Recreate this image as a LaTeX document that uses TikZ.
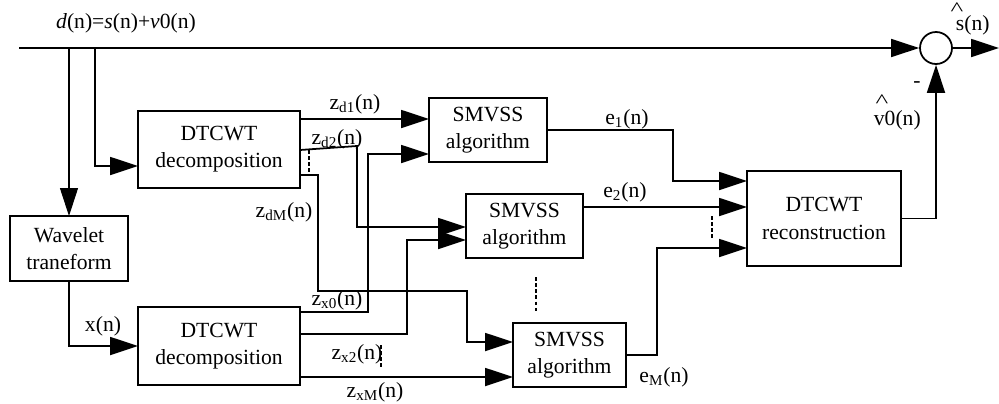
\documentclass[tikz,border=0pt]{standalone}
\usepackage{fontspec}
\setmainfont{Liberation Serif}
\usetikzlibrary{arrows.meta}

\begin{document}
\begin{tikzpicture}[x=0.02cm, y=-0.02cm, line width=1pt,
    font=\fontsize{12.3}{15.5}\selectfont,
    >={Triangle[length=0.56cm,width=0.36cm]},
    blk/.style={draw, align=center, inner sep=0pt, outer sep=0pt},
    lbl/.style={inner sep=0pt},
    dots/.style={line width=0.8pt, dash pattern=on 2pt off 1.5pt}]
    \useasboundingbox (0,0) rectangle (999,403);

    \node[blk, minimum width=2.36cm, minimum height=1.3cm] (wav) at (69,248.5) {Wavelet\\traneform};
    \node[blk, minimum width=3.24cm, minimum height=1.54cm] (dec1) at (219,149.5) {DTCWT\\decomposition};
    \node[blk, minimum width=3.24cm, minimum height=1.56cm] (dec2) at (219,346) {DTCWT\\decomposition};
    \node[blk, minimum width=2.36cm, minimum height=1.28cm] (alg1) at (488,130) {SMVSS\\algorithm};
    \node[blk, minimum width=2.34cm, minimum height=1.28cm] (alg2) at (524.5,226) {SMVSS\\algorithm};
    \node[blk, minimum width=2.26cm, minimum height=1.28cm] (algM) at (569.5,355) {SMVSS\\algorithm};
    \node[blk, minimum width=3.08cm, minimum height=1.9cm] (rec) at (824,218.5) {DTCWT\\reconstruction};
    \node[draw, circle, minimum size=0.64cm, inner sep=0pt] (sum) at (936,48) {};

    \coordinate (in) at (19,48);
    \coordinate (tap) at (95,48);
    \coordinate (out) at (999,48);

    \draw[->] (in) -- (sum.west);
    \draw[->] (sum.east) -- (out);
    \draw[->, line width=0.6pt] (in -| wav.north) -- (wav.north);
    \draw[->] (tap) -- (tap |- 0,166) -- (dec1.west |- 0,166);
    \draw[->] (wav.south) |- (dec2.west |- 0,346);

    \draw[->] (dec1.east |- 0,119) -- (alg1.west |- 0,119);
    \draw[->] (dec1.east |- 0,150) -- (357,146) |- (alg2.west |- 0,227);
    \draw[->] (dec1.east |- 0,175) -| (318,291) -| (467,342) -- (algM.west |- 0,342);
    \draw[->] (dec2.east |- 0,312) -| (368,154) -- (alg1.west |- 0,154);
    \draw[->] (dec2.east |- 0,334) -| (407,240) -- (alg2.west |- 0,240);
    \draw[->] (dec2.east |- 0,377) -- (algM.west |- 0,377);

    \draw[->] (alg1.east |- 0,130) -| (673,181) -- (rec.west |- 0,181);
    \draw[->] (alg2.east |- 0,207) -- (rec.west |- 0,207);
    \draw[->] (algM.east |- 0,355) -| (657,248) -- (rec.west |- 0,248);
    \draw[->] (rec.east) -| (sum.south);

    \draw[dots] (309,150) -- (309,172);
    \draw[dots] (381,345) -- (381,367);
    \draw[dots] (536,277) -- (536,312);
    \draw[dots] (712,216) -- (712,239);

    \node[lbl] (dn) at (126,23) {\textit{d}(n)=\textit{s}(n)+\textit{v}0(n)};
    \node[lbl] (xn) at (103,326) {x(n)};
    \node[lbl] (zd1) at (355,104) {z\textsubscript{d1}(n)};
    \node[lbl] (zd2) at (337,139) {z\textsubscript{d2}(n)};
    \node[lbl] (zdM) at (284,212) {z\textsubscript{dM}(n)};
    \node[lbl] (zx0) at (337,300) {z\textsubscript{x0}(n)};
    \node[lbl] (zx2) at (357,354) {z\textsubscript{x2}(n)};
    \node[lbl] (zxM) at (375,392) {z\textsubscript{xM}(n)};
    \node[lbl] (e1) at (627,119) {e\textsubscript{1}(n)};
    \node[lbl] (e2) at (625,192) {e\textsubscript{2}(n)};
    \node[lbl] (eM) at (664,377) {e\textsubscript{M}(n)};
    \node[lbl, anchor=base west] (shat) at (955,30) {\makebox[0pt][l]{\hspace{-3pt}\smash{\raisebox{8.5pt}{\scalebox{1.25}[0.9]{\textasciicircum}}}}s(n)};
    \node[lbl, anchor=base west] (vhat) at (873,125) {\makebox[0pt][l]{\hspace{1pt}\smash{\raisebox{10pt}{\scalebox{1.25}[0.9]{\textasciicircum}}}}v0(n)};
    \node[lbl] (minus) at (917,85) {-};
\end{tikzpicture}
\end{document}
